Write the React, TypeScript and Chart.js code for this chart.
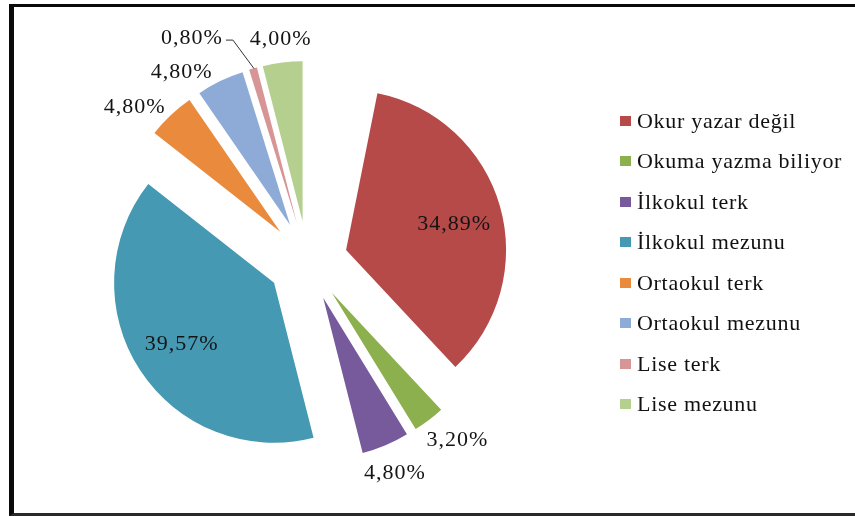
import React, { useEffect, useRef } from "react";
import { Chart, registerables } from "chart.js";

Chart.register(...registerables);

// ---- data ----
const categories = [
  "Okur yazar değil",
  "Okuma yazma biliyor",
  "İlkokul terk",
  "İlkokul mezunu",
  "Ortaokul terk",
  "Ortaokul mezunu",
  "Lise terk",
  "Lise mezunu",
];
const percentages = [34.89, 3.2, 4.8, 39.57, 4.8, 4.8, 0.8, 4.0];
const sliceColors = [
  "#B54A48",
  "#8DB04E",
  "#775A9C",
  "#4599B3",
  "#EA8A3C",
  "#8EABD7",
  "#D89595",
  "#B5CF8F",
];

// ---- styling / layout constants ----
const W = 855;
const H = 516;
const CENTER_X = 307.6;
const CENTER_Y = 261;
const RADIUS = 160;
const EXPLODE = 40;
const LABEL_FONT = '22px "Liberation Serif", "Times New Roman", serif';
const INSIDE = new Set([0, 3]);
const NUDGE: Record<number, [number, number]> = {
  0: [2, 3],
  2: [-9, 5],
  4: [-4, 8],
  5: [-18, 11],
  7: [4, -2],
};
const CALLOUT: Record<number, [number, number]> = { 6: [-61, -32] };

const fmt = (v: number) => v.toFixed(2).replace(".", ",") + "%";

const explodePlugin = {
  id: "explodeSlices",
  beforeDatasetDraw(chart: any, args: any) {
    const ctx = chart.ctx;
    args.meta.data.forEach((arc: any) => {
      const mid = (arc.startAngle + arc.endAngle) / 2;
      ctx.save();
      ctx.translate(Math.cos(mid) * EXPLODE, Math.sin(mid) * EXPLODE);
      arc.draw(ctx);
      ctx.restore();
    });
    return false;
  },
};

const labelPlugin = {
  id: "sliceLabels",
  afterDraw(chart: any) {
    const ctx = chart.ctx as CanvasRenderingContext2D;
    const meta = chart.getDatasetMeta(0);
    ctx.save();
    ctx.font = LABEL_FONT;
    (ctx as any).letterSpacing = "1px";
    ctx.textAlign = "center";
    ctx.textBaseline = "alphabetic";
    meta.data.forEach((arc: any, i: number) => {
      const mid = (arc.startAngle + arc.endAngle) / 2;
      const dx = Math.cos(mid);
      const dy = Math.sin(mid);
      const cx = arc.x + dx * EXPLODE;
      const cy = arc.y + dy * EXPLODE;
      const r = arc.outerRadius;
      const text = fmt(percentages[i]);
      const w = ctx.measureText(text).width;
      const h = 15;
      let x: number;
      let y: number;
      if (CALLOUT[i]) {
        const tx = cx + dx * r;
        const ty = cy + dy * r;
        x = tx + CALLOUT[i][0];
        y = ty + CALLOUT[i][1];
        ctx.strokeStyle = "#333";
        ctx.lineWidth = 1;
        ctx.beginPath();
        const lx = x + w / 2 + 3;
        const ly = y + 3.5;
        ctx.moveTo(lx, ly);
        ctx.lineTo(lx + 7, ly);
        ctx.lineTo(tx + 1, ty);
        ctx.stroke();
      } else if (INSIDE.has(i)) {
        x = cx + dx * r * 0.69;
        y = cy + dy * r * 0.69;
      } else {
        x = cx + dx * (r + 16) + (dx * w) / 2;
        y = cy + dy * (r + 16) + (dy * h) / 2;
      }
      const n = NUDGE[i] || [0, 0];
      x += n[0];
      y += n[1];
      ctx.fillStyle = "#141414";
      ctx.fillText(text, x, y + 7.3);
    });
    ctx.restore();
  },
};

export default function App() {
  const canvasRef = useRef<HTMLCanvasElement | null>(null);

  useEffect(() => {
    if (!canvasRef.current) return;
    const total = percentages.reduce((a, b) => a + b, 0);
    const chart = new Chart(canvasRef.current, {
      type: "pie",
      data: {
        labels: categories,
        datasets: [
          {
            data: percentages,
            backgroundColor: sliceColors,
            borderWidth: 0,
            hoverOffset: 0,
          },
        ],
      },
      options: {
        responsive: false,
        animation: false,
        radius: RADIUS,
        rotation: ((100 - total) / 100) * 360,
        circumference: (total / 100) * 360,
        layout: {
          padding: {
            left: 0,
            right: W - 2 * CENTER_X,
            top: CENTER_Y * 2 - H,
            bottom: 0,
          },
        },
        plugins: {
          legend: { display: false },
          tooltip: { enabled: false },
        },
      } as any,
      plugins: [explodePlugin, labelPlugin],
    });
    return () => chart.destroy();
  }, []);

  return (
    <div
      style={{
        position: "absolute",
        left: 0,
        top: 0,
        width: W,
        height: H,
        overflow: "hidden",
        background: "#fff",
      }}
    >
      <canvas
        ref={canvasRef}
        width={W}
        height={H}
        style={{ position: "absolute", left: 0, top: 0, width: W, height: H }}
      />
      <div
        style={{
          position: "absolute",
          left: 9,
          top: 4,
          width: W + 20,
          height: H - 4 - 3 - 3,
          borderLeft: "5px solid #0a0a0a",
          borderTop: "3px solid #0a0a0a",
          borderBottom: "3px solid #2a2a2a",
          pointerEvents: "none",
        }}
      />
      <div style={{ position: "absolute", left: 620, top: 100.25 }}>
        {categories.map((c, i) => (
          <div
            key={c}
            style={{
              height: 40.5,
              display: "flex",
              alignItems: "center",
              whiteSpace: "nowrap",
            }}
          >
            <span
              style={{
                display: "inline-block",
                width: 11,
                height: 10,
                background: sliceColors[i],
                marginRight: 6,
                flex: "none",
              }}
            />
            <span
              style={{
                font: LABEL_FONT,
                lineHeight: "22px",
                letterSpacing: "0.7px",
                color: "#111",
              }}
            >
              {c}
            </span>
          </div>
        ))}
      </div>
    </div>
  );
}
